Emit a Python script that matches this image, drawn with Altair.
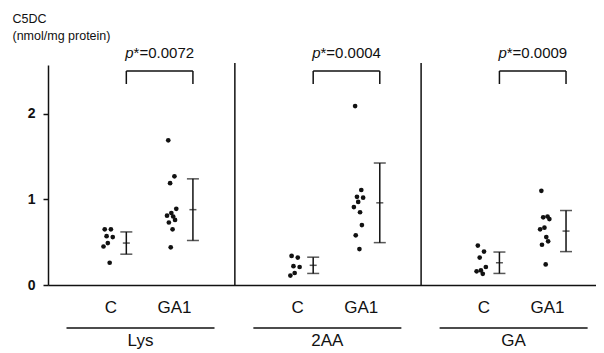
import altair as alt
import pandas as pd

# ---------------- data ----------------
panels = ["Lys", "2AA", "GA"]
groups = ["C", "GA1"]
p_values = ["0.0072", "0.0004", "0.0009"]

lys_c = [0.65, 0.65, 0.57, 0.56, 0.49, 0.45, 0.26]
lys_ga1 = [1.69, 1.27, 1.19, 0.89, 0.84, 0.81, 0.80, 0.76, 0.73, 0.65, 0.44]
aa_c = [0.34, 0.32, 0.22, 0.21, 0.14, 0.11]
aa_ga1 = [2.09, 1.11, 1.03, 1.02, 0.97, 0.91, 0.85, 0.70, 0.58, 0.42]
ga_c = [0.46, 0.39, 0.32, 0.21, 0.17, 0.16, 0.13]
ga_ga1 = [1.10, 0.80, 0.79, 0.77, 0.67, 0.65, 0.56, 0.51, 0.47, 0.24]

# mean and SD per panel/group (C, GA1 for Lys, 2AA, GA)
means = [0.49, 0.88, 0.23, 0.96, 0.26, 0.63]
sds = [0.13, 0.36, 0.095, 0.465, 0.125, 0.24]

y_ticks = [0, 1, 2]

# ---------------- layout (positions on the x scale) ----------------
PANEL_START = [0.0, 3.03, 6.05]
GROUP_OFF = {"C": 0.97, "GA1": 2.0}
BAR_OFF = {"C": 0.30, "GA1": 0.35}
LABEL_OFF = 0.05
JITTER = [-0.05, 0.05, -0.02, 0.08, 0.0, -0.07, 0.03, 0.06, -0.04, 0.02, -0.01]

series = {("Lys", "C"): lys_c, ("Lys", "GA1"): lys_ga1,
          ("2AA", "C"): aa_c, ("2AA", "GA1"): aa_ga1,
          ("GA", "C"): ga_c, ("GA", "GA1"): ga_ga1}

pt_rows, bar_rows, cap_rows, lab_rows = [], [], [], []
br_rows, leg_rows, pan_rows = [], [], []
k = 0
for i, pn in enumerate(panels):
    s = PANEL_START[i]
    for g in groups:
        vals = series[(pn, g)]
        gx = s + GROUP_OFF[g]
        for j, v in enumerate(vals):
            pt_rows.append({"panel": pn, "group": g, "value": v,
                            "x": gx + JITTER[j % len(JITTER)]})
        m, sd = means[k], sds[k]
        bx = gx + BAR_OFF[g]
        bar_rows.append({"bx": bx, "lo": m - sd, "hi": m + sd, "mean": m})
        cap_rows.append({"bx": bx, "cap": m - sd})
        cap_rows.append({"bx": bx, "cap": m + sd})
        lab_rows.append({"lx": gx + LABEL_OFF, "text": g})
        k += 1
    x1 = s + GROUP_OFF["C"] + BAR_OFF["C"]
    x2 = s + GROUP_OFF["GA1"] + BAR_OFF["GA1"]
    br_rows.append({"x1": x1, "x2": x2, "xc": (x1 + x2) / 2,
                    "p": "p", "rest": "*=" + p_values[i]})
    leg_rows.append({"xl": x1})
    leg_rows.append({"xl": x2})
    pan_rows.append({"u1": s + 0.3, "u2": s + 2.7, "uc": s + 1.5, "name": pn})

pts = pd.DataFrame(pt_rows)
bars = pd.DataFrame(bar_rows)
caps = pd.DataFrame(cap_rows)
labs = pd.DataFrame(lab_rows)
brs = pd.DataFrame(br_rows)
legs = pd.DataFrame(leg_rows)
pans = pd.DataFrame(pan_rows)
divs = pd.DataFrame({"dx": PANEL_START[1:]})

FONT = "Liberation Sans"
INK = "#111111"
W = 548
H = 220

xs = alt.Scale(domain=[0, 8.886], nice=False, zero=False)
ys = alt.Scale(domain=[0, 2.57], nice=False, zero=True)
xa = alt.Axis(labels=False, ticks=False, grid=False, domainColor=INK,
              domainWidth=1.5, title=None)
ya = alt.Axis(values=y_ticks, grid=False, domainColor=INK, domainWidth=1.5,
              tickColor=INK, tickSize=5, tickWidth=1.5, labelFont=FONT,
              labelFontSize=14, labelFontWeight="bold", labelColor=INK,
              labelPadding=8,
              title=["C5DC", "(nmol/mg protein)"], titleAngle=0,
              titleAlign="left", titleBaseline="top", titleX=-36, titleY=-53,
              titleFont=FONT, titleFontSize=12.5, titleFontWeight="normal",
              titleColor=INK, titleLineHeight=17)

def X(f):
    return alt.X(f, type="quantitative", scale=xs, axis=xa)

def Y(f):
    return alt.Y(f, type="quantitative", scale=ys, axis=ya)

points = alt.Chart(pts).mark_circle(size=22, color=INK, opacity=1).encode(
    x=X("x"), y=Y("value"))

err = alt.Chart(bars).mark_rule(color=INK, strokeWidth=1.5).encode(
    x=X("bx"), y=Y("lo"), y2="hi")
capm = alt.Chart(caps).mark_tick(orient="horizontal", size=12, thickness=1.5,
                                 color=INK).encode(x=X("bx"), y=Y("cap"))
meanm = alt.Chart(bars).mark_tick(orient="horizontal", size=7, thickness=1.5,
                                  color=INK).encode(x=X("bx"), y=Y("mean"))

br_h = alt.Chart(brs).mark_rule(color=INK, strokeWidth=1.5).encode(
    x=X("x1"), x2="x2", y=alt.value(6))
br_v = alt.Chart(legs).mark_rule(color=INK, strokeWidth=1.5).encode(
    x=X("xl"), y=alt.value(6), y2=alt.value(19))
p_it = alt.Chart(brs).mark_text(font=FONT, fontSize=15, fontStyle="italic",
                                align="right", baseline="middle", dx=-26,
                                color=INK).encode(
    x=X("xc"), y=alt.value(-12), text="p:N")
p_rest = alt.Chart(brs).mark_text(font=FONT, fontSize=15, align="left",
                                  baseline="middle", dx=-26, color=INK).encode(
    x=X("xc"), y=alt.value(-12), text="rest:N")

dividers = alt.Chart(divs).mark_rule(color=INK, strokeWidth=1.5).encode(
    x=X("dx"), y=alt.value(-2), y2=alt.value(H))

glabels = alt.Chart(labs).mark_text(font=FONT, fontSize=17, align="center",
                                    baseline="middle", color=INK).encode(
    x=X("lx"), y=alt.value(H + 23), text="text:N")
under = alt.Chart(pans).mark_rule(color=INK, strokeWidth=1.5).encode(
    x=X("u1"), x2="u2", y=alt.value(H + 43))
pnames = alt.Chart(pans).mark_text(font=FONT, fontSize=17, align="center",
                                   baseline="middle", color=INK).encode(
    x=X("uc"), y=alt.value(H + 56), text="name:N")

chart = alt.layer(
    dividers, points, err, capm, meanm, br_h, br_v, p_it, p_rest,
    glabels, under, pnames
).properties(
    width=W, height=H,
    autosize=alt.AutoSizeParams(type="none"),
    padding={"left": 40, "top": 57, "right": 0, "bottom": 67},
    background="white",
).configure_view(stroke=None)

chart.save("out.html", embed_options={"renderer": "svg", "actions": False})
